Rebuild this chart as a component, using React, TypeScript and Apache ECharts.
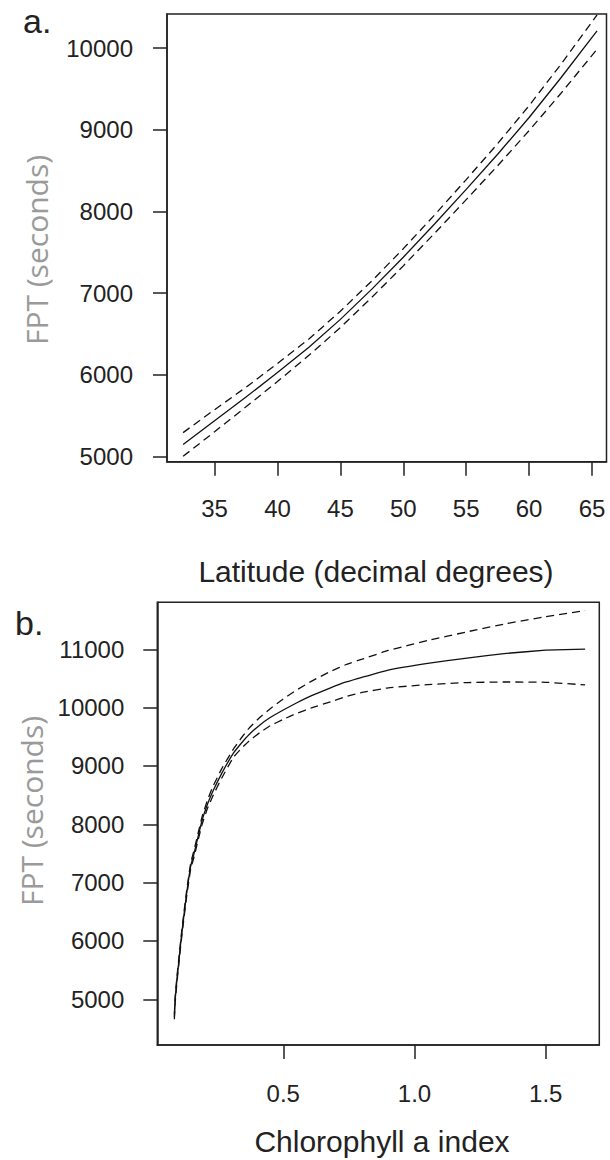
import React, { useEffect, useRef } from "react";
import * as echarts from "echarts";

// Panel a: FPT vs latitude (fit and 95% confidence bounds)
const latitude = [32.5, 35, 37.5, 40, 42.5, 45, 47.5, 50, 52.5, 55, 57.5, 60, 62.5, 65, 65.4];
const fptFitA = [5150, 5440, 5730, 6030, 6340, 6680, 7050, 7440, 7850, 8270, 8700, 9150, 9630, 10130, 10210];
const fptUpperA = [5295, 5575, 5850, 6140, 6440, 6780, 7150, 7545, 7960, 8390, 8830, 9295, 9795, 10320, 10405];
const fptLowerA = [5005, 5305, 5610, 5920, 6240, 6580, 6950, 7335, 7735, 8145, 8560, 8990, 9440, 9910, 9985];

// Panel b: FPT vs chlorophyll a index
const chlorophyll = [0.085, 0.088, 0.095, 0.1025, 0.11, 0.118, 0.132, 0.147, 0.16, 0.175, 0.19, 0.21, 0.23, 0.265, 0.31, 0.34, 0.37, 0.41, 0.45, 0.5, 0.55, 0.61, 0.68, 0.74, 0.8, 0.9, 1.05, 1.2, 1.35, 1.5, 1.65];
const fptFitB = [4700, 4990, 5350, 5670, 6000, 6310, 6820, 7280, 7500, 7780, 8060, 8330, 8550, 8870, 9220, 9390, 9540, 9700, 9830, 9960, 10080, 10210, 10340, 10440, 10520, 10645, 10760, 10850, 10930, 10985, 11005];
const fptUpperB = [4740, 5040, 5400, 5720, 6050, 6360, 6870, 7330, 7560, 7840, 8120, 8400, 8630, 8950, 9290, 9480, 9650, 9830, 9980, 10150, 10300, 10460, 10620, 10740, 10830, 10980, 11150, 11300, 11440, 11560, 11665];
const fptLowerB = [4660, 4940, 5300, 5620, 5950, 6260, 6770, 7230, 7440, 7720, 7990, 8260, 8470, 8790, 9150, 9300, 9430, 9570, 9690, 9800, 9900, 10000, 10100, 10190, 10260, 10340, 10395, 10430, 10440, 10435, 10390];

// Tick labels
const latTicks = [35, 40, 45, 50, 55, 60, 65];
const fptTicksA = [5000, 6000, 7000, 8000, 9000, 10000];
const chlTicks = [0.5, 1.0, 1.5];
const fptTicksB = [5000, 6000, 7000, 8000, 9000, 10000, 11000];

const INK = "#222";
const LABEL_FONT = "'Liberation Sans', Arial, sans-serif";
const TITLE_FONT = "'Open Sans', 'Noto Sans', sans-serif";

const pairs = (xs: number[], ys: number[]) => xs.map((x, i) => [x, ys[i]]);

export default function App() {
  const ref = useRef<HTMLDivElement>(null);
  useEffect(() => {
    document.body.style.margin = "0";
    const chart = echarts.init(ref.current!, null, { renderer: "svg" });

    const axisCommon = {
      type: "value" as const,
      axisLine: { show: true, lineStyle: { color: INK, width: 1.5 } },
      axisTick: { show: true, length: 14, lineStyle: { color: INK, width: 1.5 } },
      splitLine: { show: false },
    };
    const labelStyle = { color: INK, fontSize: 24, fontFamily: LABEL_FONT };
    const plain = (v: number) => String(Math.round(v));

    const line = (xi: number, data: number[][], dashed: boolean, smooth: number | boolean) => ({
      type: "line",
      xAxisIndex: xi,
      yAxisIndex: xi,
      data,
      symbol: "none",
      smooth,
      lineStyle: { color: "#111", width: 1.3, type: dashed ? [8, 5] : "solid" },
      silent: true,
    });

    chart.setOption({
      animation: false,
      backgroundColor: "#fff",
      grid: [
        { left: 167, top: 14, right: 3.5, bottom: 698.3, show: true, borderColor: INK, borderWidth: 1.5 },
        { left: 157.3, top: 602.3, right: 10.7, bottom: 115, show: true, borderColor: INK, borderWidth: 1.5 },
      ],
      xAxis: [
        {
          ...axisCommon,
          gridIndex: 0,
          min: 31.22,
          max: 66.15,
          axisTick: { ...axisCommon.axisTick, customValues: latTicks },
          axisLabel: { ...labelStyle, margin: 35, customValues: latTicks, formatter: plain },
        },
        {
          ...axisCommon,
          gridIndex: 1,
          min: 0.02,
          max: 1.704,
          axisTick: { ...axisCommon.axisTick, customValues: chlTicks },
          axisLabel: { ...labelStyle, margin: 36, customValues: chlTicks, formatter: (v: number) => v.toFixed(1) },
        },
      ],
      yAxis: [
        {
          ...axisCommon,
          gridIndex: 0,
          min: 4939,
          max: 10416,
          axisTick: { ...axisCommon.axisTick, customValues: fptTicksA },
          axisLabel: { ...labelStyle, margin: 34, customValues: fptTicksA, formatter: plain },
        },
        {
          ...axisCommon,
          gridIndex: 1,
          min: 4217,
          max: 11806,
          axisTick: { ...axisCommon.axisTick, customValues: fptTicksB },
          axisLabel: { ...labelStyle, margin: 33, customValues: fptTicksB, formatter: plain },
        },
      ],
      series: [
        line(0, pairs(latitude, fptUpperA), true, false),
        line(0, pairs(latitude, fptFitA), false, false),
        line(0, pairs(latitude, fptLowerA), true, false),
        line(1, pairs(chlorophyll, fptUpperB), true, 0.1),
        line(1, pairs(chlorophyll, fptFitB), false, 0.1),
        line(1, pairs(chlorophyll, fptLowerB), true, 0.1),
      ],
      graphic: [
        { type: "text", x: 23, y: 21, style: { text: "a.", fontSize: 34, fontFamily: LABEL_FONT, fill: "#222", align: "left", verticalAlign: "middle" } },
        { type: "text", x: 15, y: 623, style: { text: "b.", fontSize: 34, fontFamily: LABEL_FONT, fill: "#222", align: "left", verticalAlign: "middle" } },
        { type: "text", x: 36, y: 250, rotation: Math.PI / 2, style: { text: "FPT (seconds)", fontSize: 30, fontFamily: TITLE_FONT, fill: "#9a9a9a", align: "center", verticalAlign: "middle" } },
        { type: "text", x: 31, y: 811, rotation: Math.PI / 2, style: { text: "FPT (seconds)", fontSize: 30, fontFamily: TITLE_FONT, fill: "#9a9a9a", align: "center", verticalAlign: "middle" } },
        { type: "text", x: 376, y: 571, style: { text: "Latitude (decimal degrees)", fontSize: 30, fontFamily: LABEL_FONT, fill: "#222", align: "center", verticalAlign: "middle" } },
        { type: "text", x: 382, y: 1141, style: { text: "Chlorophyll a index", fontSize: 30, fontFamily: LABEL_FONT, fill: "#222", align: "center", verticalAlign: "middle" } },
      ],
    });
    return () => chart.dispose();
  }, []);
  return <div ref={ref} style={{ position: "absolute", left: 0, top: 0, width: 610, height: 1160, background: "#fff" }} />;
}
